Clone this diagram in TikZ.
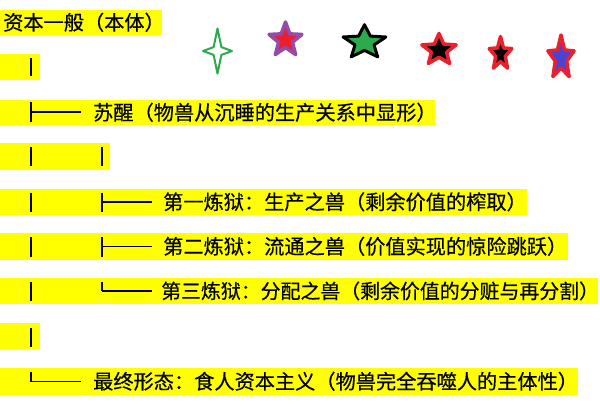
\documentclass[tikz,border=0pt]{standalone}
\usepackage{fontspec}
\setmainfont{Noto Sans CJK SC}
\newfontfamily\cjkdark{Noto Sans CJK SC}[FakeBold=0.4]
\definecolor{hl}{RGB}{255,255,0}
\definecolor{sgreen}{RGB}{44,170,76}
\definecolor{sred}{RGB}{236,32,44}
\definecolor{spurple}{RGB}{146,76,170}
\definecolor{sblue}{RGB}{72,68,214}
\begin{document}
\begin{tikzpicture}[x=1pt,y=-1pt,
  lbl/.style={anchor=base west, inner sep=0pt, font=\cjkdark\fontsize{20.2}{21}\selectfont},
  tree/.style={line width=1.9pt, black},
  starline/.style={line join=round}]
\useasboundingbox (0,0) rectangle (600,405);
% highlight bars
\fill[hl] (0,10) rectangle (162,35);
\fill[hl] (0,54) rectangle (40,80);
\fill[hl] (0,100) rectangle (435,125);
\fill[hl] (0,143) rectangle (110,170);
\fill[hl] (0,189) rectangle (527,215);
\fill[hl] (0,233) rectangle (568,260);
\fill[hl] (0,278) rectangle (598,304);
\fill[hl] (0,323) rectangle (40,349);
\fill[hl] (0,368) rectangle (578,395);
% texts
\node[lbl] (root) at (3,30) {资本一般（本体）};
\node[lbl] (wake) at (93,120) {苏醒（物兽从沉睡的生产关系中显形）};
\node[lbl] (p1) at (163,209.5) {第一炼狱：生产之兽（剩余价值的榨取）};
\node[lbl] (p2) at (163,254) {第二炼狱：流通之兽（价值实现的惊险跳跃）};
\node[lbl, font=\cjkdark\fontsize{19.9}{21}\selectfont] (p3) at (161,298.5) {第三炼狱：分配之兽（剩余价值的分赃与再分割\makebox[0.5em][l]{）}};
\node[lbl] (fin) at (93,389) {最终形态：食人资本主义（物兽完全吞噬人的主体性）};
% tree glyphs
\draw[tree] (31,58) -- (31,76);
\draw[tree] (31,102) -- (31,122);
\draw[tree, line width=1.5pt] (31,112) -- (81,112);
\draw[tree] (31,147) -- (31,166);
\draw[tree] (102,147) -- (102,166);
\draw[tree] (31,192.5) -- (31,212);
\draw[tree] (102,192.5) -- (102,212);
\draw[tree, line width=1.5pt] (102,202) -- (152,202);
\draw[tree] (31,237) -- (31,256.5);
\draw[tree] (102,237) -- (102,256.5);
\draw[tree, line width=1.5pt] (102,246.5) -- (152,246.5);
\draw[tree] (31,281.5) -- (31,301);
\draw[tree] (102,281.5) -- (102,291);
\draw[tree, line width=1.5pt] (102,291) -- (152,291);
\draw[tree] (31,328) -- (31,346.5);
\draw[tree] (31,371.5) -- (31,381.5);
\draw[tree, line width=1.5pt] (31,381.5) -- (81,381.5);
% stars
\begin{scope}[shift={(217.5,51)}]
  \draw[starline, draw=sgreen, fill=white, line width=2pt]
    (0:14.5pt) -- (45:5.5pt) -- (90:22.5pt) -- (135:5.5pt) -- (180:14.5pt) -- (225:5.5pt) -- (270:22.5pt) -- (315:5.5pt) -- cycle;
\end{scope}
\begin{scope}[shift={(285.5,40)}, xscale=0.96]
  \draw[starline, draw=spurple, fill=sred, line width=3.5pt]
    (90:18pt) \foreach \a in {162,234,306,378} {-- (\a-36:7.6pt) -- (\a:18pt)} -- (54:7.6pt) -- cycle;
\end{scope}
\begin{scope}[shift={(364.5,42.5)}, yscale=0.79]
  \draw[starline, draw=black, fill=sgreen, line width=3pt]
    (90:22.5pt) \foreach \a in {162,234,306,378} {-- (\a-36:10pt) -- (\a:22.5pt)} -- (54:10pt) -- cycle;
\end{scope}
\begin{scope}[shift={(439,50)}, yscale=0.92]
  \draw[starline, draw=sred, fill=black, line width=3.5pt]
    (90:18pt) \foreach \a in {162,234,306,378} {-- (\a-36:8pt) -- (\a:18pt)} -- (54:8pt) -- cycle;
\end{scope}
\begin{scope}[shift={(500.5,54)}, xscale=0.68]
  \draw[starline, draw=sred, fill=black, line width=3.5pt]
    (90:17.5pt) \foreach \a in {162,234,306,378} {-- (\a-36:7.5pt) -- (\a:17.5pt)} -- (54:7.5pt) -- cycle;
\end{scope}
\begin{scope}[shift={(561,58)}, xscale=0.6]
  \draw[starline, draw=sred, fill=sblue, line width=3.5pt]
    (90:23pt) \foreach \a in {162,234,306,378} {-- (\a-36:10pt) -- (\a:23pt)} -- (54:10pt) -- cycle;
\end{scope}
\end{tikzpicture}
\end{document}
